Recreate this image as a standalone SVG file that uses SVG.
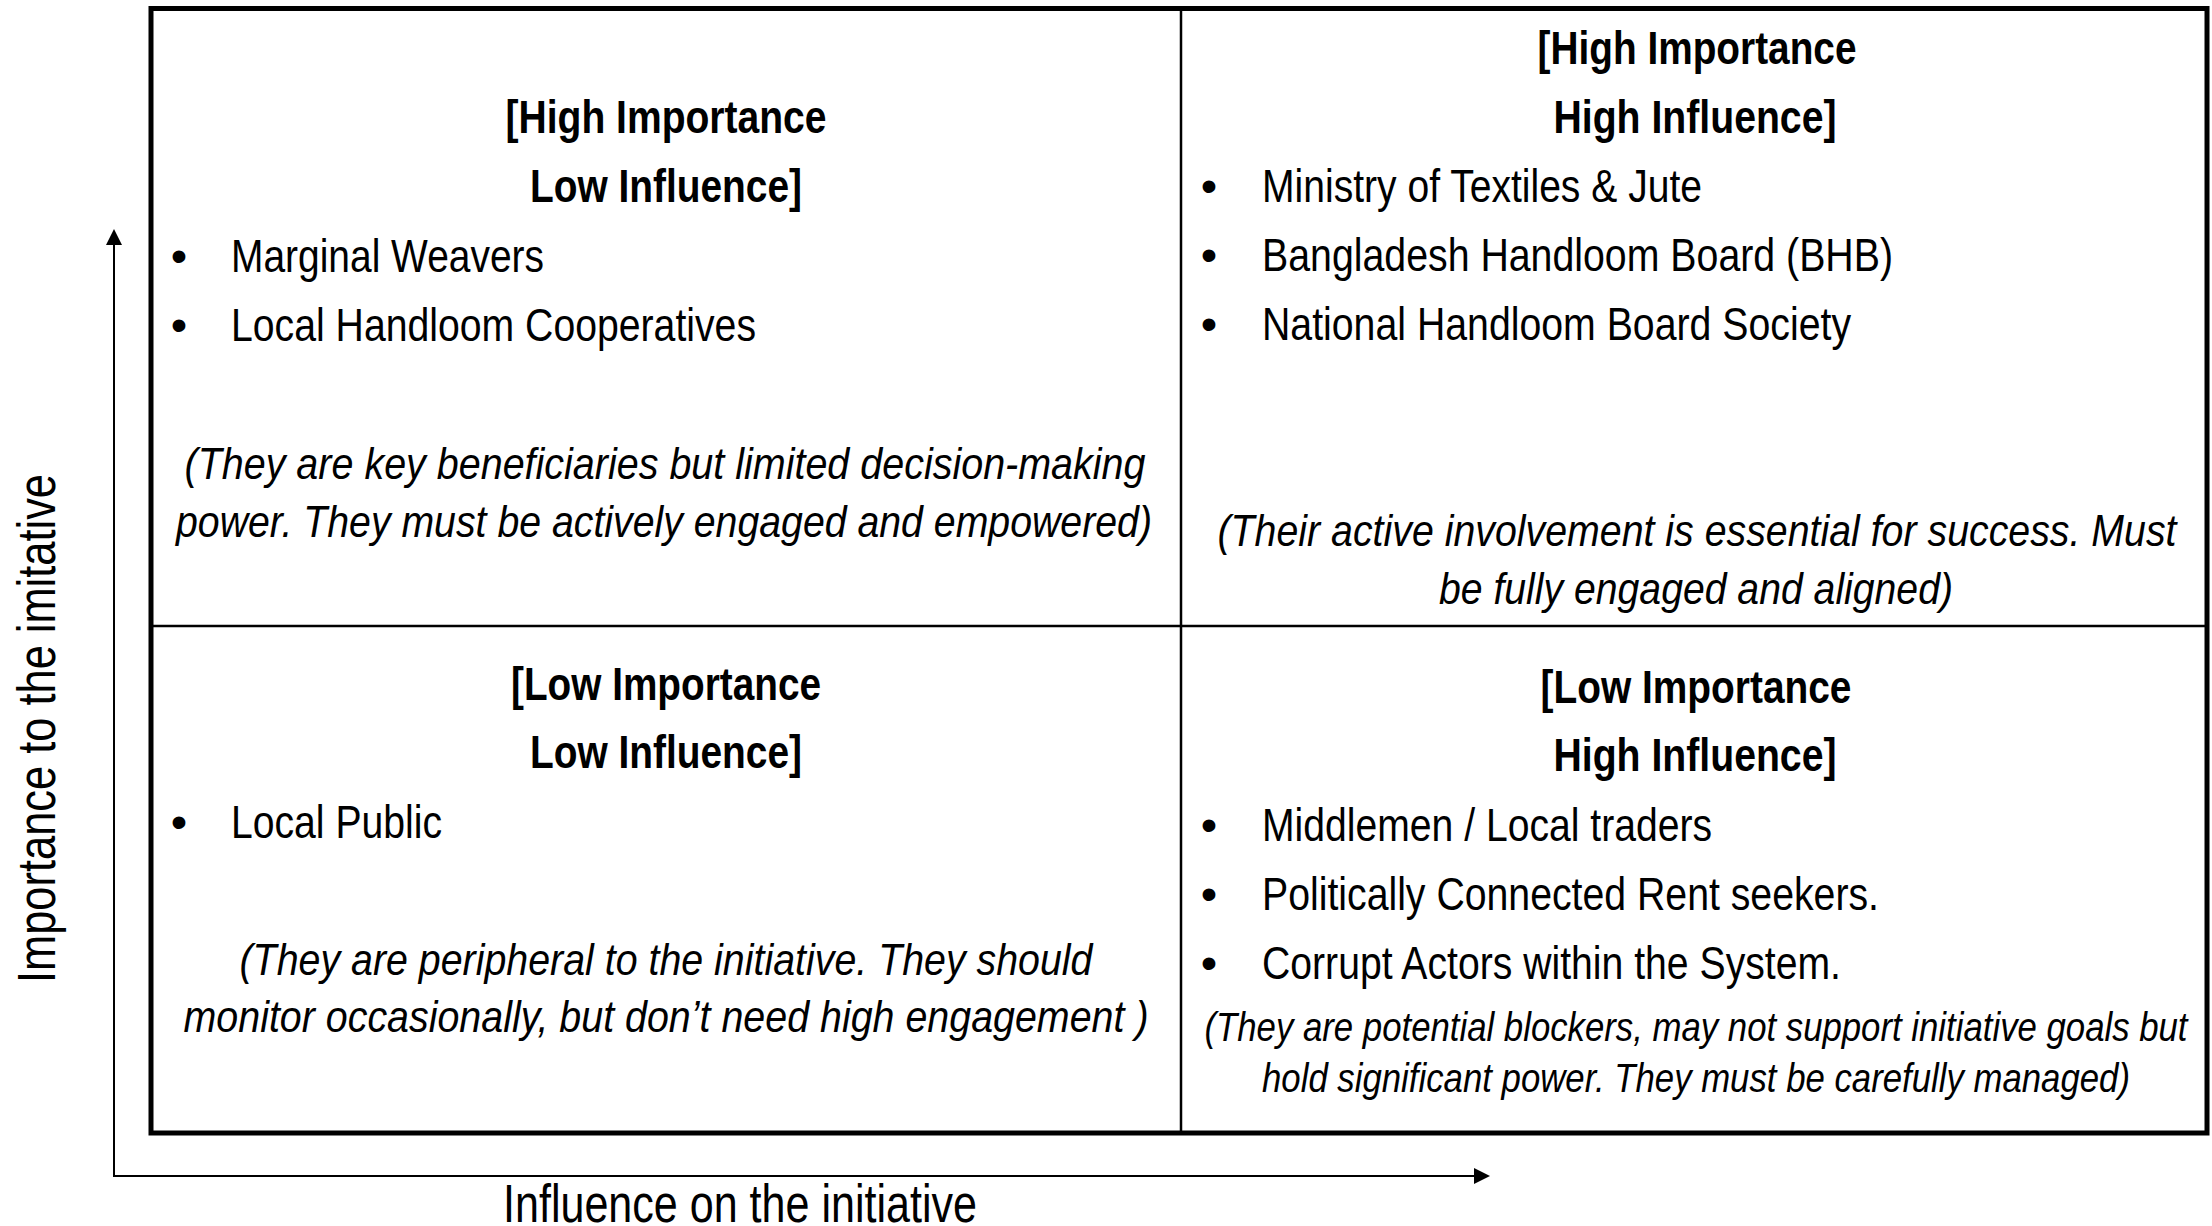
<svg xmlns="http://www.w3.org/2000/svg" width="2212" height="1226" viewBox="0 0 2212 1226">
  <style>
    text { font-family: "Liberation Sans Narrow", "Arial Narrow", "Liberation Sans", Arial, sans-serif; fill: #000; }
    .hd { font-size: 47px; font-weight: bold; text-anchor: middle; }
    .it { font-size: 47px; font-weight: normal; }
    .bl { font-size: 47px; text-anchor: middle; }
    .nt { font-size: 45px; font-style: italic; text-anchor: middle; }
    .ns { font-size: 41px; font-style: italic; text-anchor: middle; }
    .ax { font-size: 53px; }
    .frame { fill: none; stroke: #000; stroke-width: 5; }
    .div { stroke: #000; stroke-width: 2.5; fill: none; }
    .axis { stroke: #000; stroke-width: 2; fill: none; }
  </style>
  <defs>
    <marker id="arrow" viewBox="0 0 16 16" markerWidth="16" markerHeight="16" refX="0" refY="8" orient="auto" markerUnits="userSpaceOnUse">
      <path d="M0,0 L16,8 L0,16 z" fill="#000"/>
    </marker>
  </defs>
  <rect width="2212" height="1226" fill="#fff"/>

  <g id="grid">
    <line class="div" x1="1181" y1="8.5" x2="1181" y2="1133"/>
    <line class="div" x1="151" y1="626" x2="2207" y2="626"/>
    <rect class="frame" x="151" y="8.5" width="2056" height="1124.5"/>
  </g>

  <g id="connectors">
    <line class="axis" x1="114" y1="1176" x2="114" y2="245" marker-end="url(#arrow)"/>
    <line class="axis" x1="113" y1="1176" x2="1474" y2="1176" marker-end="url(#arrow)"/>
  </g>

  <g id="axis-labels">
    <text class="ax" transform="translate(55,983) rotate(-90)" textLength="509" lengthAdjust="spacingAndGlyphs">Importance to the imitative</text>
    <text class="ax" x="503" y="1222" textLength="474" lengthAdjust="spacingAndGlyphs">Influence on the initiative</text>
  </g>

  <g id="q-high-importance-low-influence">
    <text class="hd" x="666" y="133" textLength="321" lengthAdjust="spacingAndGlyphs">[High Importance</text>
    <text class="hd" x="666" y="202" textLength="272" lengthAdjust="spacingAndGlyphs">Low Influence]</text>
    <text class="bl" x="179" y="272">•</text>
    <text class="it" x="231" y="272" textLength="313" lengthAdjust="spacingAndGlyphs">Marginal Weavers</text>
    <text class="bl" x="179" y="341">•</text>
    <text class="it" x="231" y="341" textLength="525" lengthAdjust="spacingAndGlyphs">Local Handloom Cooperatives</text>
    <text class="nt" x="665" y="479" textLength="961" lengthAdjust="spacingAndGlyphs">(They are key beneficiaries but limited decision-making</text>
    <text class="nt" x="664" y="537" textLength="976" lengthAdjust="spacingAndGlyphs">power. They must be actively engaged and empowered)</text>
  </g>

  <g id="q-high-importance-high-influence">
    <text class="hd" x="1697" y="64" textLength="319" lengthAdjust="spacingAndGlyphs">[High Importance</text>
    <text class="hd" x="1695" y="133" textLength="283" lengthAdjust="spacingAndGlyphs">High Influence]</text>
    <text class="bl" x="1209" y="202">•</text>
    <text class="it" x="1262" y="202" textLength="440" lengthAdjust="spacingAndGlyphs">Ministry of Textiles &amp; Jute</text>
    <text class="bl" x="1209" y="271">•</text>
    <text class="it" x="1262" y="271" textLength="631" lengthAdjust="spacingAndGlyphs">Bangladesh Handloom Board (BHB)</text>
    <text class="bl" x="1209" y="340">•</text>
    <text class="it" x="1262" y="340" textLength="589" lengthAdjust="spacingAndGlyphs">National Handloom Board Society</text>
    <text class="nt" x="1697" y="546" textLength="959" lengthAdjust="spacingAndGlyphs">(Their active involvement is essential for success. Must</text>
    <text class="nt" x="1696" y="604" textLength="514" lengthAdjust="spacingAndGlyphs">be fully engaged and aligned)</text>
  </g>

  <g id="q-low-importance-low-influence">
    <text class="hd" x="666" y="700" textLength="310" lengthAdjust="spacingAndGlyphs">[Low Importance</text>
    <text class="hd" x="666" y="768" textLength="272" lengthAdjust="spacingAndGlyphs">Low Influence]</text>
    <text class="bl" x="179" y="838">•</text>
    <text class="it" x="231" y="838" textLength="211" lengthAdjust="spacingAndGlyphs">Local Public</text>
    <text class="nt" x="666" y="975" textLength="853" lengthAdjust="spacingAndGlyphs">(They are peripheral to the initiative. They should</text>
    <text class="nt" x="666" y="1032" textLength="965" lengthAdjust="spacingAndGlyphs">monitor occasionally, but don’t need high engagement )</text>
  </g>

  <g id="q-low-importance-high-influence">
    <text class="hd" x="1696" y="703" textLength="311" lengthAdjust="spacingAndGlyphs">[Low Importance</text>
    <text class="hd" x="1695" y="771" textLength="283" lengthAdjust="spacingAndGlyphs">High Influence]</text>
    <text class="bl" x="1209" y="841">•</text>
    <text class="it" x="1262" y="841" textLength="450" lengthAdjust="spacingAndGlyphs">Middlemen / Local traders</text>
    <text class="bl" x="1209" y="910">•</text>
    <text class="it" x="1262" y="910" textLength="617" lengthAdjust="spacingAndGlyphs">Politically Connected Rent seekers.</text>
    <text class="bl" x="1209" y="979">•</text>
    <text class="it" x="1262" y="979" textLength="579" lengthAdjust="spacingAndGlyphs">Corrupt Actors within the System.</text>
    <text class="ns" x="1696" y="1041" textLength="983" lengthAdjust="spacingAndGlyphs">(They are potential blockers, may not support initiative goals but</text>
    <text class="ns" x="1696" y="1092" textLength="868" lengthAdjust="spacingAndGlyphs">hold significant power. They must be carefully managed)</text>
  </g>
</svg>
